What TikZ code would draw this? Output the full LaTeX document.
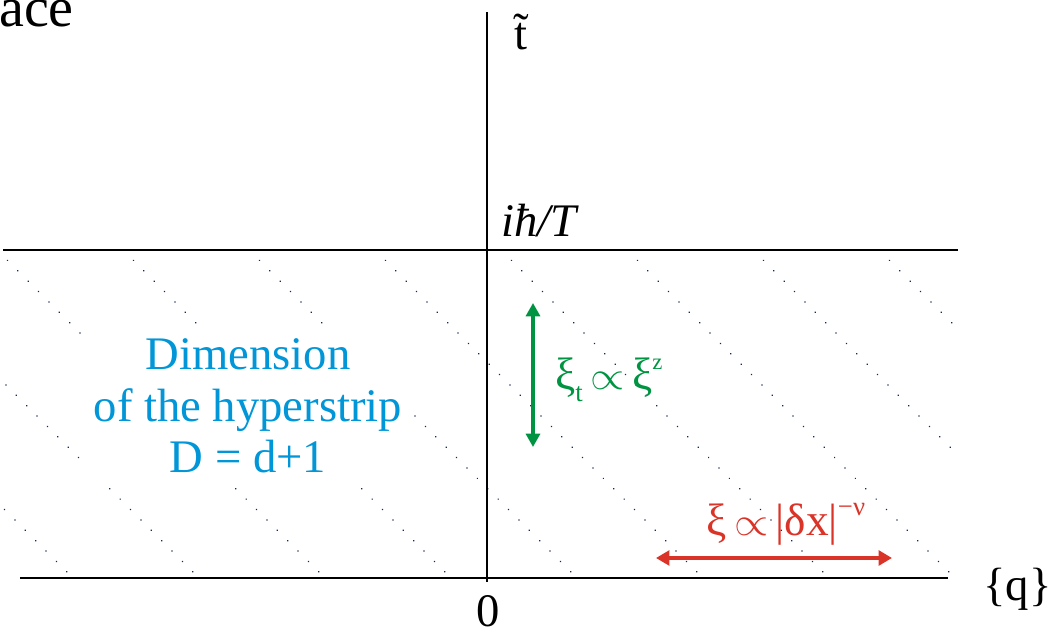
\documentclass[tikz,border=0pt]{standalone}
\usepackage{fontspec}
\setmainfont{Liberation Serif}
\usetikzlibrary{arrows.meta}
\definecolor{hblue}{RGB}{0,150,216}
\definecolor{hgreen}{RGB}{0,148,66}
\definecolor{hred}{RGB}{218,52,40}
\definecolor{hdot}{RGB}{20,40,90}
\newcommand{\bigfnt}{\fontsize{35}{38.6}\selectfont}
\newcommand{\eqfnt}{\fontsize{34}{36}\selectfont}
\newcommand{\smallfnt}{\fontsize{20}{20}\selectfont}
\newcommand{\prop}{\scalebox{3.3}[3.0]{\normalsize$\propto$}}
\begin{document}
\begin{tikzpicture}[x=0.75pt,y=-0.75pt,
  axis/.style={line width=1.9pt, black},
  hatch/.style={hdot, line width=1.3pt, line cap=round, dash pattern=on 0.01pt off 11pt},
  lbl/.style={font=\bigfnt, inner sep=0pt},
  eqlbl/.style={font=\eqfnt, inner sep=0pt},
  garrow/.style={hgreen, line width=2.4pt, {Triangle[width=10.5pt,length=10pt]}-{Triangle[width=10.5pt,length=10pt]}},
  rarrow/.style={hred, line width=2.6pt, {Triangle[width=11pt,length=10pt]}-{Triangle[width=11pt,length=10pt]}}
]
\useasboundingbox (0,0) rectangle (1057,630);
% hatch
\begin{scope}
  \clip (0,252) rectangle (958,577);
  \foreach \c in {-505,-379,...,700} {
    \draw[hatch] ({\c+250},250) -- ({\c+578},578);
  }
\end{scope}
% axes
\coordinate (vb) at (487,582);
\coordinate (vt) at (487,12);
\coordinate (tl) at (3,250);
\coordinate (tr) at (958,250);
\coordinate (bl) at (20,578);
\coordinate (br) at (948,578);
\draw[axis] (tl) -- (tr);
\draw[axis] (bl) -- (br);
\draw[axis] (vb) -- (vt);
% labels
\node[lbl, anchor=base west, font=\fontsize{42}{48}\selectfont] (ace) at (-1,27) {ace};
\node[lbl, anchor=base] (tt) at (521,50) {\~{t}};
\node[lbl, anchor=base west] (iht) at (501,237) {\itshape iħ/T};
\node[lbl, anchor=base] (zero) at (488,626) {0};
\node[lbl, anchor=base west] (q) at (983,600) {\{q\}};
\node[lbl, text=hblue, align=center, fill=white, inner xsep=5pt, inner ysep=9pt] (dim) at (248,406)
  {Dimension\\of the hyperstrip\\D = d+1};
% green
\coordinate (ga) at (533,303);
\coordinate (gb) at (533,447);
\draw[garrow] (ga) -- (gb);
\node[eqlbl, anchor=base west, text=hgreen] (gt) at (555,390)
  {ξ\raisebox{-9pt}{\smallfnt t}\,\prop\,ξ\raisebox{15pt}{\fontsize{17}{17}\selectfont z}};
% red
\coordinate (ra) at (656,558);
\coordinate (rb) at (892,558);
\draw[rarrow] (ra) -- (rb);
\node[eqlbl, anchor=base west, text=hred] (rt) at (706,536)
  {ξ\,\prop\,|δx|\raisebox{15pt}{\smallfnt −ν}};
\end{tikzpicture}
\end{document}
